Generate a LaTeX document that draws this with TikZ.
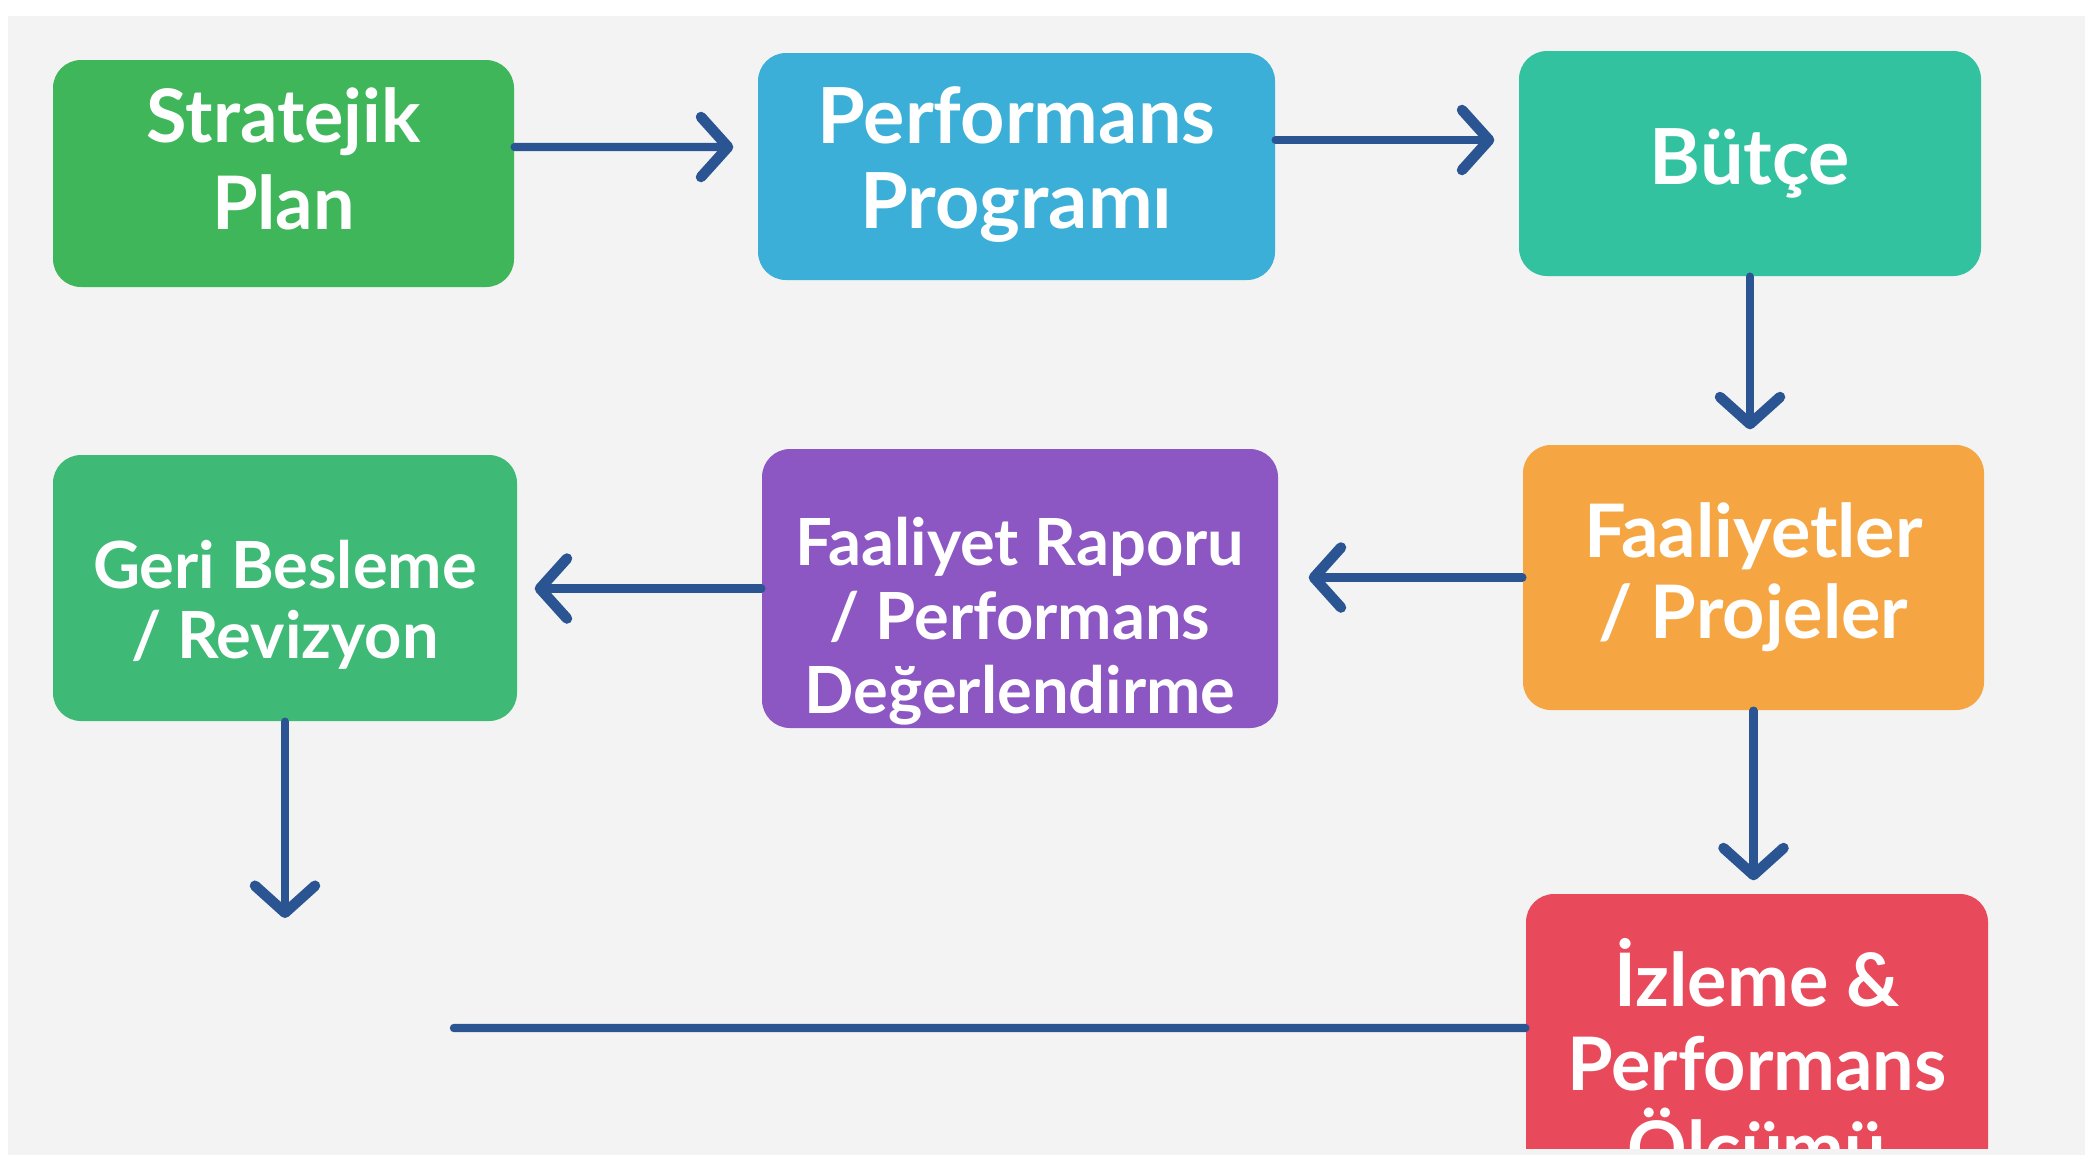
\documentclass[tikz,border=0pt]{standalone}
\usepackage{fontspec}
\setmainfont{Lato}
\usetikzlibrary{arrows.meta}

\definecolor{paperGray}{HTML}{F3F3F3}
\definecolor{arrowBlue}{HTML}{2B5592}
\definecolor{planGreen}{HTML}{3FB65A}
\definecolor{progBlue}{HTML}{3BAFD7}
\definecolor{budgetTeal}{HTML}{33C29F}
\definecolor{taskOrange}{HTML}{F5A643}
\definecolor{reportPurple}{HTML}{8C57C3}
\definecolor{feedGreen}{HTML}{3EBA76}
\definecolor{watchRed}{HTML}{E8495B}

\tikzset{
    box/.style={rounded corners=0.28cm, text=white, align=center, inner sep=0pt},
    flow/.style={line width=2.4pt, draw=arrowBlue, line cap=round,
        -{Straight Barb[length=2.7mm, width=6mm, round, line width=3pt]}},
}

\begin{document}
\begin{tikzpicture}
        % Paper
        \useasboundingbox (0,0) rectangle (20.93,-11.71);
        \fill[white] (0,0) rectangle (20.93,-11.71);
        \fill[paperGray] (0.08,-0.16) rectangle (20.85,-11.55);

        % Stratejik Plan Node
        \node[box, fill=planGreen, minimum width=4.61cm, minimum height=2.27cm,
            font=\bfseries\fontsize{21}{25}\selectfont] (strat) at (2.835,-1.735) {Stratejik\\Plan\rule[-0.3cm]{0pt}{0pt}};

        % Performans Programi Node
        \node[box, fill=progBlue, minimum width=5.17cm, minimum height=2.27cm,
            font=\bfseries\fontsize{22}{24}\selectfont] (perf) at (10.165,-1.665) {Performans\\Programı\rule[-0.18cm]{0pt}{0pt}};

        % Butce Node
        \node[box, fill=budgetTeal, minimum width=4.62cm, minimum height=2.25cm,
            font=\bfseries\fontsize{22}{24}\selectfont] (butce) at (17.50,-1.635) {Bütçe\rule[-0.14cm]{0pt}{0pt}};

        % Faaliyetler Node
        \node[box, fill=taskOrange, minimum width=4.61cm, minimum height=2.65cm,
            font=\bfseries\fontsize{21}{23}\selectfont] (faal) at (17.535,-5.775) {Faaliyetler\\/ Projeler};

        % Faaliyet Raporu Node
        \node[box, fill=reportPurple, minimum width=5.16cm, minimum height=2.79cm,
            font=\bfseries\fontsize{18.5}{21}\selectfont] (rapor) at (10.20,-5.885) {\rule{0pt}{1.14cm}Faaliyet Raporu\\/ Performans\\Değerlendirme};

        % Geri Besleme Node
        \node[box, fill=feedGreen, minimum width=4.64cm, minimum height=2.66cm,
            font=\bfseries\fontsize{18.5}{20}\selectfont] (geri) at (2.85,-5.88) {\rule{0pt}{0.82cm}Geri Besleme\\/ Revizyon};

        % Izleme Node (torn off at the bottom)
        \begin{scope}
            \clip (0,0) rectangle (20.93,-11.48);
            \node[box, fill=watchRed, minimum width=4.62cm, minimum height=3.38cm,
                font=\bfseries\fontsize{21}{24}\selectfont] (izleme) at (17.57,-10.63) {İzleme \&\\Performans\\Ölçümü};
        \end{scope}

        % Free ends
        \coordinate (geriEnd) at (2.85,-9.18);
        \coordinate (loopEnd) at (4.54,-10.28);

        % Connectors
        \draw[flow, shorten >=2.4mm] ([yshift=2.65mm]strat.east) -- ([yshift=1.95mm]perf.west);
        \draw[flow, shorten >=2.4mm] ([yshift=2.65mm]perf.east) -- ([yshift=2.35mm]butce.west);
        \draw[flow, shorten >=1.5mm] (butce.south) -- (butce.south |- faal.north);
        \draw[flow, shorten >=3mm] (faal.west) -- (faal.west -| rapor.east);
        \draw[flow, shorten >=1.7mm] (rapor.west) -- (rapor.west -| geri.east);
        \draw[flow] (geri.south) -- (geriEnd);
        \draw[flow, shorten >=1.3mm] (faal.south) -- (faal.south |- izleme.north);
        \draw[line width=2.4pt, draw=arrowBlue, line cap=round] ([yshift=3.5mm]izleme.west) -- (loopEnd);
    \end{tikzpicture}
\end{document}
